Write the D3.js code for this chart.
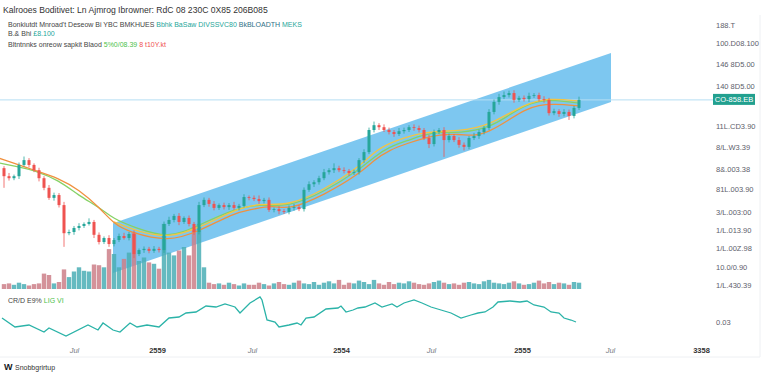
<!DOCTYPE html>
<html>
<head>
<meta charset="utf-8">
<script src="https://cdn.jsdelivr.net/npm/d3@7"></script>
<style>
  html, body { margin: 0; padding: 0; background: #fff; }
  svg { display: block; font-family: "Liberation Sans", Arial, sans-serif; }
</style>
</head>
<body>
<svg id="chart" width="768" height="374"></svg>
<script>
// candle closes (price in thousands), open of first candle, wick extents beyond body
const openFirst = 39.1;
const closes = [
  37.1, 36.6, 37.1, 39.9, 41.1, 39.9, 38.6, 36.6, 34.2, 31.7,
  32.4, 29.9, 22.9, 23.2, 24.2, 24.7, 25.2, 25.7, 22.5, 20.7,
  21.7, 20.2, 21.2, 22.2, 21.7, 22.7, 17.7, 18.7, 19.0, 18.5,
  19.0, 18.7, 25.2, 26.2, 27.2, 25.7, 26.7, 25.2, 23.2, 29.9,
  31.2, 30.2, 29.2, 29.9, 29.4, 29.9, 29.2, 29.7, 31.9, 31.7,
  31.4, 30.9, 31.2, 28.7, 28.9, 28.4, 28.2, 29.2, 29.4, 28.9,
  33.7, 35.1, 35.6, 36.6, 38.1, 38.6, 39.1, 38.6, 38.4, 37.9,
  38.1, 41.1, 43.1, 48.6, 49.8, 49.3, 48.6, 48.1, 47.6, 48.3,
  48.6, 49.3, 49.1, 48.6, 46.6, 45.1, 48.1, 48.6, 46.1, 47.1,
  46.1, 44.9, 44.4, 46.6, 47.1, 48.1, 49.1, 53.1, 55.6, 56.8,
  57.3, 57.8, 56.1, 56.6, 56.3, 57.1, 57.3, 56.3, 56.1, 52.8,
  53.3, 52.6, 53.1, 52.1, 54.1, 56.1
];
const wickHi = [
  0.5, 0.8, 0.4, 0.6, 0.9, 0.5, 0.4, 0.6, 0.5, 0.7,
  0.6, 0.5, 0.8, 0.6, 0.5, 0.7, 0.4, 0.9, 0.5, 0.6,
  0.4, 0.7, 0.5, 0.6, 0.8, 0.5, 0.9, 0.4, 0.6, 0.5,
  0.7, 0.5, 0.6, 0.8, 0.5, 0.7, 0.4, 0.6, 0.5, 0.8,
  0.6, 0.5, 0.7, 0.4, 0.6, 0.5, 0.8, 0.5, 0.7, 0.4,
  0.6, 0.9, 0.5, 0.6, 0.4, 0.7, 0.5, 0.6, 0.8, 0.5,
  0.6, 0.7, 0.5, 0.6, 0.8, 0.5, 1.2, 0.6, 0.7, 0.5,
  0.6, 0.5, 0.7, 0.6, 0.9, 0.5, 0.7, 0.6, 0.5, 0.8,
  0.6, 0.5, 0.7, 0.6, 0.5, 0.8, 0.6, 0.5, 0.7, 0.6,
  0.5, 0.7, 0.6, 0.5, 0.8, 0.6, 0.5, 0.7, 0.6, 0.8,
  0.9, 0.6, 0.7, 0.5, 0.6, 0.8, 0.5, 0.6, 0.7, 0.5,
  0.6, 0.5, 0.7, 0.6, 0.5, 0.8
];
const wickLo = [
  2.9, 0.6, 0.5, 0.7, 0.4, 0.6, 0.5, 0.8, 0.6, 0.5,
  0.7, 0.6, 3.4, 0.5, 0.7, 0.6, 0.5, 0.4, 0.8, 0.6,
  0.5, 0.7, 0.6, 0.5, 0.4, 0.6, 1.0, 0.5, 0.7, 0.6,
  0.5, 0.6, 0.7, 0.5, 0.6, 0.8, 0.5, 0.6, 0.7, 0.6,
  0.5, 0.7, 0.6, 0.5, 0.6, 0.7, 0.5, 0.6, 0.4, 0.6,
  0.5, 0.7, 0.6, 0.5, 0.6, 0.8, 0.5, 0.6, 0.7, 0.5,
  0.6, 0.5, 0.7, 0.6, 0.5, 0.6, 0.7, 0.5, 0.6, 0.7,
  0.5, 0.6, 0.7, 0.5, 0.6, 0.7, 0.5, 0.6, 0.7, 0.5,
  0.6, 0.5, 0.7, 0.6, 0.5, 1.0, 0.6, 0.5, 4.2, 0.6,
  0.5, 0.7, 0.9, 0.6, 0.5, 0.7, 0.6, 0.5, 0.6, 0.7,
  0.5, 0.6, 0.7, 0.5, 0.6, 0.7, 0.5, 0.6, 0.7, 0.6,
  0.5, 0.7, 0.6, 1.0, 0.6, 0.5
];
const volumes = [
  7, 8, 6, 9, 7, 5, 7, 8, 22, 20,
  8, 10, 28, 17, 25, 31, 26, 25, 35, 34,
  31, 57, 50, 31, 43, 52, 81, 40, 45, 38,
  36, 29, 93, 52, 48, 55, 60, 48, 88, 93,
  31, 9, 7, 8, 6, 9, 7, 5, 8, 6,
  6, 9, 7, 5, 8, 10, 7, 6, 9, 12,
  8, 7, 10, 6, 9, 11, 8, 13, 6, 9,
  8, 12, 10, 7, 13, 8, 6, 10, 7, 9,
  8, 11, 9, 7, 6, 8, 10, 12, 9, 7,
  8, 6, 9, 10, 8, 7, 11, 13, 9, 8,
  7, 9, 11, 8, 6, 7, 9, 12, 8, 10,
  7, 9, 8, 6, 10, 9
];

// moving averages as [candle index, price]
const maOrange = [[-1, 41.6], [6, 38.6], [11, 36.6], [15, 33.7], [19, 29.4], [22, 25.2], [25, 23.2], [33, 20.7],
  [39, 23.4], [46, 27.9], [49, 28.7], [54, 29.9], [57, 28.7], [64, 32.4], [71, 37.6], [74, 41.1], [77, 43.6],
  [81, 45.4], [84, 46.6], [87, 47.4], [91, 47.6], [94, 47.1], [97, 48.1], [101, 51.1], [104, 53.6], [107, 54.8],
  [110, 55.1], [115, 54.6]];
const maGreen = [[-1, 40.4], [3, 39.4], [6, 38.6], [11, 36.1], [15, 32.2], [19, 29.4], [22, 26.4], [26, 24.4],
  [33, 21.5], [39, 24.9], [46, 28.9], [51, 30.2], [57, 29.4], [64, 33.2], [71, 38.6], [74, 41.9], [77, 44.4],
  [81, 46.1], [84, 47.4], [87, 48.1], [91, 47.8], [97, 49.1], [101, 52.3], [104, 54.6], [107, 55.8], [110, 56.1],
  [115, 55.3]];
const maYellow = [[22, 25.7], [27, 23.2], [33, 21.7], [39, 24.2], [46, 28.7], [51, 30.4], [57, 29.7], [64, 33.7],
  [71, 39.4], [74, 43.1], [77, 45.4], [84, 48.3], [91, 48.3], [97, 49.6], [104, 55.1], [109, 56.6], [115, 55.8]];

// rising channel corners [candle index, price]
const channel = [[21.8, 25.4], [121.4, 67.8], [121.4, 55.6], [21.8, 13.0]];

// oscillator [candle index, value]
const oscPoints = [[-0.4, 44], [2.2, 26], [5, 30], [8, 16], [9, 24], [12.4, 8], [16.8, 30], [18.8, 20], [19.8, 34],
  [21.8, 20], [23.2, 16], [25.2, 34], [26.6, 26], [28.6, 30], [31, 26], [33, 44], [35, 46], [36.4, 54], [38.4, 56],
  [40.4, 68], [42.4, 66], [44.2, 72], [46.2, 66], [47.2, 54], [49.2, 74], [51.2, 86], [51.6, 80], [52.6, 40],
  [54.2, 36], [55, 26], [57, 30], [58.6, 34], [59.4, 30], [60.4, 44], [62, 46], [64.4, 62], [66.8, 64], [67.4, 68],
  [68.4, 56], [69.8, 60], [70.8, 64], [72.2, 66], [74.2, 74], [75.6, 66], [77.6, 72], [78.6, 66], [80, 74], [82, 80],
  [83.6, 74], [85.4, 66], [87.4, 60], [89.4, 54], [91.4, 44], [93.4, 50], [94.8, 54], [96.2, 56], [97.8, 66],
  [98.8, 76], [101.2, 78], [103.2, 76], [104.6, 78], [106, 70], [108, 66], [109.4, 56], [111, 54], [112, 44],
  [113.4, 40], [114.4, 36]];

const priceTicks = [74.7, 70.3, 65.0, 59.6, 49.6, 44.4, 38.9, 33.9, 28.2, 23.7, 19.2, 14.5, 10.0];
const priceLabels = ["188.T", "100.D08.100", "146 8D5.00", "140 8D5.00", "11L.CD3.90", "8/L.W3.39",
  "8&.003.38", "81L.003.90", "3/L.003:00", "1/L.013.90", "1/L.00Z.98", "10.0/0.90", "1/L.430.39"];
const lastLabel = "CO-858.EB";
const oscTicks = [36];
const oscLabels = ["0.03"];

const timeTicks = [14, 30.6, 49.6, 67.4, 85.4, 103.6, 121.2, 139.4];
const timeLabels = ["Jul", "2559", "Jul", "2554", "Jul", "2555", "Jul", "3358"];

const UP = "#26a69a", DOWN = "#ef5350";

const svg = d3.select("#chart");
svg.append("rect").attr("width", 768).attr("height", 374).attr("fill", "#fff");

const x = d3.scaleLinear().domain([0, 115]).range([4, 579]);
const y = d3.scaleLinear().domain([10, 75]).range([285, 24]);
const yVol = d3.scaleLinear().domain([0, 100]).range([289, 219]);
const yOsc = d3.scaleLinear().domain([0, 100]).range([340, 290]);

const candles = closes.map((c, i) => {
  const o = i === 0 ? openFirst : closes[i - 1];
  return { i, o, c, h: Math.max(o, c) + wickHi[i], l: Math.min(o, c) - wickLo[i], v: volumes[i] };
});

// frame lines
svg.append("line").attr("x1", 0).attr("x2", 760).attr("y1", 357).attr("y2", 357).attr("stroke", "#eef0f3");
svg.append("line").attr("x1", 760).attr("x2", 760).attr("y1", 15).attr("y2", 357).attr("stroke", "#eef0f3");

// channel
svg.append("path")
  .attr("d", d3.line().x(d => x(d[0])).y(d => y(d[1]))(channel) + "Z")
  .attr("fill", "#5cb9ec")
  .attr("opacity", 0.8);

// last price line
const lastY = y(closes[closes.length - 1]);
svg.append("line").attr("x1", 0).attr("x2", 713).attr("y1", lastY).attr("y2", lastY)
  .attr("stroke", "#b5def3").attr("stroke-width", 1);

// volume
svg.append("g").selectAll("rect").data(candles).join("rect")
  .attr("x", d => x(d.i) - 2.2)
  .attr("width", 4.4)
  .attr("y", d => yVol(d.v))
  .attr("height", d => yVol(0) - yVol(d.v))
  .attr("fill", d => (d.c >= d.o ? "#4aaeb5" : "#cc7f88"))
  .attr("opacity", 0.85);

// moving averages
const maLine = d3.line().curve(d3.curveBasis).x(d => x(d[0])).y(d => y(d[1]));
[[maGreen, "#86d266"], [maYellow, "#f3c443"], [maOrange, "#f0913f"]].forEach(([data, color]) => {
  svg.append("path").attr("d", maLine(data)).attr("fill", "none")
    .attr("stroke", color).attr("stroke-width", 1.3);
});

// candles
const cg = svg.append("g");
cg.selectAll("line").data(candles).join("line")
  .attr("x1", d => x(d.i)).attr("x2", d => x(d.i))
  .attr("y1", d => y(d.h)).attr("y2", d => y(d.l))
  .attr("stroke", d => (d.c >= d.o ? UP : DOWN)).attr("stroke-width", 0.8);
cg.selectAll("rect").data(candles).join("rect")
  .attr("x", d => x(d.i) - 1.5)
  .attr("width", 3)
  .attr("y", d => y(Math.max(d.o, d.c)))
  .attr("height", d => Math.max(0.8, Math.abs(y(d.o) - y(d.c))))
  .attr("fill", d => (d.c >= d.o ? UP : DOWN));

// oscillator
svg.append("path")
  .attr("d", d3.line().x(d => x(d[0])).y(d => yOsc(d[1]))(oscPoints))
  .attr("fill", "none").attr("stroke", "#2bb3a8").attr("stroke-width", 1.3);

// price axis
const pAxis = svg.append("g").attr("transform", "translate(716,0)")
  .call(d3.axisRight(y).tickValues(priceTicks).tickFormat((d, i) => priceLabels[i]).tickSize(0).tickPadding(0));
pAxis.select(".domain").remove();
pAxis.selectAll("text").attr("font-size", 7.5).attr("fill", "#5d606b").attr("font-family", "Liberation Sans, Arial");

// last price tag
svg.append("rect").attr("x", 713).attr("y", lastY - 6).attr("width", 42).attr("height", 11).attr("fill", "#22a08f");
svg.append("text").attr("x", 734).attr("y", lastY + 2.6).attr("text-anchor", "middle")
  .attr("font-size", 7.5).attr("fill", "#fff").text(lastLabel);

// oscillator axis
const oAxis = svg.append("g").attr("transform", "translate(716,0)")
  .call(d3.axisRight(yOsc).tickValues(oscTicks).tickFormat((d, i) => oscLabels[i]).tickSize(0).tickPadding(0));
oAxis.select(".domain").remove();
oAxis.selectAll("text").attr("font-size", 7.5).attr("fill", "#5d606b").attr("font-family", "Liberation Sans, Arial");

// time axis
const tAxis = svg.append("g").attr("transform", "translate(0,348)")
  .call(d3.axisBottom(x).tickValues(timeTicks).tickFormat((d, i) => timeLabels[i]).tickSize(0).tickPadding(0));
tAxis.select(".domain").remove();
tAxis.selectAll("text")
  .attr("font-size", 7.5)
  .attr("font-family", "Liberation Sans, Arial")
  .attr("fill", (d, i) => (timeLabels[i] === "Jul" ? "#787b86" : "#333"))
  .attr("font-weight", (d, i) => (timeLabels[i] === "Jul" ? "normal" : "bold"))
  .attr("font-style", (d, i) => (timeLabels[i] === "Jul" ? "italic" : "normal"));

// legend
const legend = svg.append("g").attr("font-family", "Liberation Sans, Arial");
legend.append("text").attr("x", 3).attr("y", 13).attr("font-size", 8.6).attr("fill", "#333")
  .text("Kalrooes Boditivet: Ln Ajmrog Ibrowner: RdC 08 230C 0X85 206B085");

const row2 = legend.append("text").attr("x", 8).attr("y", 27).attr("font-size", 7);
row2.append("tspan").attr("fill", "#444").text("Bonkiutdt  Mnroad't Deseow Bi  YBC  BMKHUES  ");
row2.append("tspan").attr("fill", "#26a69a").text("Bbhk BaSaw  ");
row2.append("tspan").attr("fill", "#26a69a").text("DIVSSVC80  ");
row2.append("tspan").attr("fill", "#2f6f86").text("BkBLOADTH  ");
row2.append("tspan").attr("fill", "#26a69a").text("MEKS");

const row3 = legend.append("text").attr("x", 8).attr("y", 36).attr("font-size", 7);
row3.append("tspan").attr("fill", "#444").text("B.& Bhi   ");
row3.append("tspan").attr("fill", "#26a69a").text("£8.100");

const row4 = legend.append("text").attr("x", 8).attr("y", 47).attr("font-size", 7);
row4.append("tspan").attr("fill", "#444").text("Bltntnnks onreow sapkit Blaod  ");
row4.append("tspan").attr("fill", "#4cc24a").text("5%0/08.39  ");
row4.append("tspan").attr("fill", "#ef5350").text("8 t10Y.kt");

const oscLegend = legend.append("text").attr("x", 8).attr("y", 303).attr("font-size", 7);
oscLegend.append("tspan").attr("fill", "#444").text("CR/D E9%  ");
oscLegend.append("tspan").attr("fill", "#4cc24a").text("LIG VI");

// logo
svg.append("text").attr("x", 4).attr("y", 370).attr("font-size", 9).attr("font-weight", "bold")
  .attr("fill", "#131722").text("W");
svg.append("text").attr("x", 15).attr("y", 370).attr("font-size", 7).attr("fill", "#333")
  .attr("font-family", "Liberation Sans, Arial").text("Snobbgrirtup");
</script>
</body>
</html>
